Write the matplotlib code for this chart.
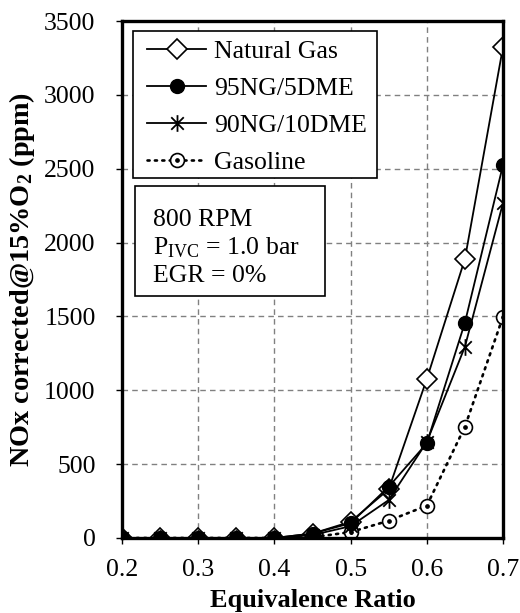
import matplotlib
matplotlib.use("Agg")
import matplotlib.pyplot as plt
from matplotlib.legend_handler import HandlerTuple
from matplotlib.path import Path
from matplotlib.patches import Rectangle

plt.rcParams["font.family"] = ["Liberation Serif", "DejaVu Serif"]
plt.rcParams["mathtext.fontset"] = "custom"
plt.rcParams["mathtext.rm"] = "Liberation Serif"
plt.rcParams["mathtext.it"] = "Liberation Serif:italic"
plt.rcParams["mathtext.bf"] = "Liberation Serif:bold"

# Equivalence ratio sweep and NOx readings (ppm, corrected to 15% O2)
phi = [0.2, 0.25, 0.3, 0.35, 0.4, 0.45, 0.5, 0.55, 0.6, 0.65, 0.7]
natural_gas = [0, 0, 0, 0, 0, 30, 110, 330, 1076, 1889, 3324]
ng95_dme5 = [0, 0, 0, 0, 0, 30, 100, 347, 641, 1458, 2525]
ng90_dme10 = [0, 0, 0, 0, 0, 20, 80, 257, 650, 1295, 2268]
gasoline = [0, 0, 0, 0, 0, 5, 40, 117, 219, 753, 1498]

labels = ["Natural Gas", "95NG/5DME", "90NG/10DME", "Gasoline"]
x_ticks = [0.2, 0.3, 0.4, 0.5, 0.6, 0.7]
y_ticks = [0, 500, 1000, 1500, 2000, 2500, 3000, 3500]

FS = 18.5
W, H = 520, 613


def fig_xy(px, py):
    """Pixel position (from top-left) to figure fraction."""
    return px / W, 1 - py / H


# asterisk marker: an X with a vertical stroke through it
d = 0.75
asterisk = Path(
    [(0, -1), (0, 1), (-d, -d), (d, d), (-d, d), (d, -d)],
    [Path.MOVETO, Path.LINETO] * 3,
)

fig = plt.figure(figsize=(W / 100, H / 100), dpi=100)
ax = fig.add_axes([122 / W, 1 - 538 / H, 381 / W, 517 / H])

lw = 1.3
h_gas, = ax.plot(phi, gasoline, color="black", lw=1.9, ls=(0, (0.8, 2.0)),
                 marker="o", ms=10, mfc="white", mec="black", mew=1.2,
                 dash_capstyle="round", zorder=3)
h_gas_dot, = ax.plot(phi, gasoline, ls="none", marker="o", ms=2.4,
                     color="black", zorder=3.1)
h_ng, = ax.plot(phi, natural_gas, color="black", lw=lw, marker="D", ms=10,
                mfc="white", mec="black", mew=1.2, zorder=4)
h_10, = ax.plot(phi, ng90_dme10, color="black", lw=lw, marker=asterisk,
                ms=12, mfc="none", mec="black", mew=1.3, zorder=5)
h_5, = ax.plot(phi, ng95_dme5, color="black", lw=lw, marker="o", ms=10,
               mfc="black", mec="black", zorder=6)

ax.set_xlim(0.2, 0.7)
ax.set_ylim(0, 3500)
ax.set_xticks(x_ticks)
ax.set_yticks(y_ticks)
ax.set_xticklabels([f"{v:.1f}" for v in x_ticks])
ax.set_yticklabels([str(v) for v in y_ticks])
ax.tick_params(labelsize=FS, direction="out", length=4, width=1,
               colors="black")
ax.tick_params(axis="y", pad=15)
ax.tick_params(axis="x", pad=11)

ax.grid(True, color="#808080", ls=(0, (4, 3)), lw=1.0)
ax.set_axisbelow(True)
for s in ax.spines.values():
    s.set_linewidth(2.4)
    s.set_color("black")
    s.set_zorder(10)

ax.set_xlabel("Equivalence Ratio", fontsize=19, fontweight="bold",
              labelpad=6)
ax.set_ylabel(r"NOx corrected@15%O$_\mathbf{2}$ (ppm)", fontsize=20.3,
              fontweight="bold", labelpad=5)

# legend (frame drawn separately as a plain rectangle)
leg = ax.legend([h_ng, h_5, h_10, (h_gas, h_gas_dot)], labels,
                handler_map={tuple: HandlerTuple(ndivide=1, pad=0)},
                loc="upper left", bbox_to_anchor=fig_xy(147, 40),
                bbox_transform=fig.transFigure, borderaxespad=0,
                fontsize=FS, frameon=False, handlelength=2.3,
                handletextpad=0.3, labelspacing=0.54, borderpad=0)
leg.set_zorder(21)
x0, y0 = fig_xy(133, 178)
x1, y1 = fig_xy(377, 31)
ax.add_patch(Rectangle((x0, y0), x1 - x0, y1 - y0,
                       transform=fig.transFigure, fc="white",
                       ec="black", lw=1.2, zorder=20, clip_on=False))

# operating-condition box
x0, y0 = fig_xy(135, 296)
x1, y1 = fig_xy(325, 186)
ax.add_patch(Rectangle((x0, y0), x1 - x0, y1 - y0,
                       transform=fig.transFigure, fc="white",
                       ec="black", lw=1.2, zorder=20, clip_on=False))
ax.text(*fig_xy(153, 282),
        "800 RPM\n" + r"P$_{\mathrm{IVC}}$ = 1.0 bar" + "\nEGR = 0%",
        transform=fig.transFigure, fontsize=FS, va="baseline", ha="left",
        linespacing=1.27, zorder=22)

fig.savefig("out.png", dpi=100)
